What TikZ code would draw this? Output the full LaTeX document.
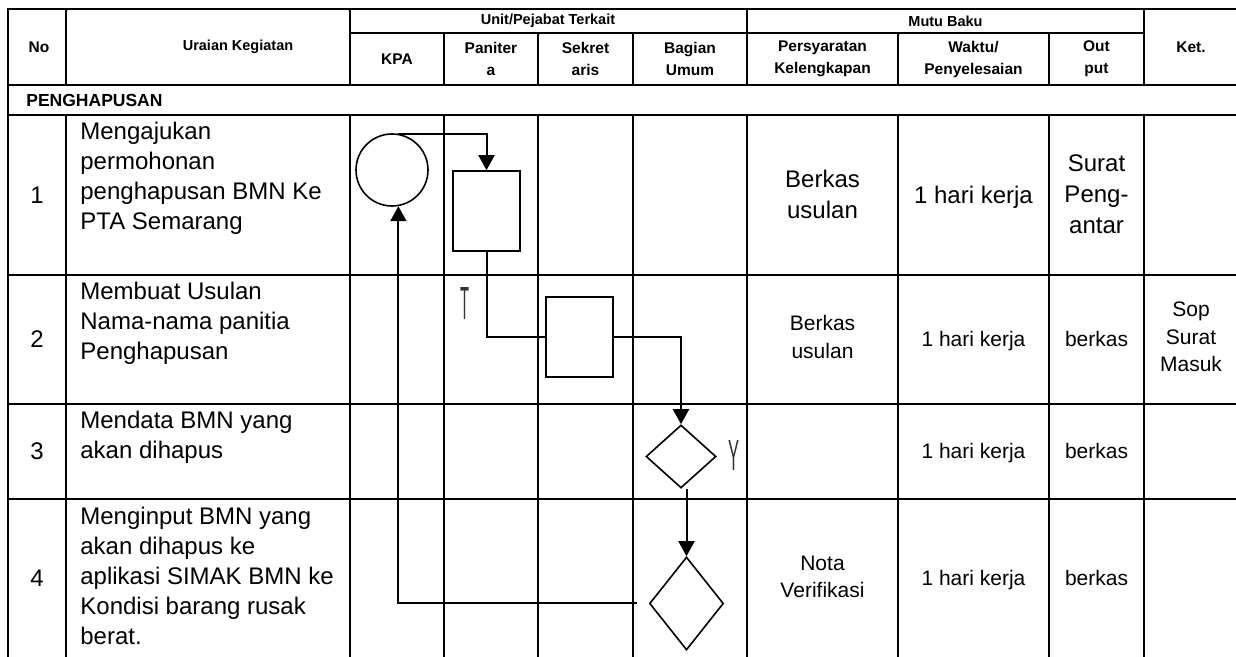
\documentclass[tikz,border=0pt]{standalone}
\usepackage{fontspec}
\setmainfont{Liberation Sans}
\usetikzlibrary{shapes.geometric,arrows.meta}
\begin{document}
\begin{tikzpicture}[x=0.5pt,y=-0.5pt,
  tblline/.style={line width=1pt, line cap=rect},
  hdrtext/.style={font=\bfseries\fontsize{7.25}{11}\selectfont, align=center, inner sep=0},
  hdrbig/.style={font=\bfseries\fontsize{7.75}{11}\selectfont, align=center, inner sep=0},
  bodytext/.style={font=\fontsize{12}{15}\selectfont, align=left, inner sep=0, anchor=north west},
  numtext/.style={font=\fontsize{12}{15}\selectfont, inner sep=0},
  celllg/.style={font=\fontsize{12}{15.5}\selectfont, align=center, inner sep=0},
  cellsm/.style={font=\fontsize{10.5}{13.75}\selectfont, align=center, inner sep=0},
  procbox/.style={draw, line width=0.8pt, rectangle, minimum width=33.5pt, minimum height=40pt, inner sep=0},
  startcirc/.style={draw, line width=0.8pt, circle, minimum size=36pt, inner sep=0},
  decbox/.style={draw, line width=0.8pt, diamond, inner sep=0},
  flowarrow/.style={line width=1pt, -{Triangle[length=7.5pt,width=8pt]}},
  flowline/.style={line width=1pt},
  ynmark/.style={font=\fontsize{20}{20}\selectfont, inner sep=0, text=black!80}
]
\useasboundingbox (0,0) rectangle (1236,657);

% table grid
\draw[tblline] (8,9) -- (1236,9);
\draw[tblline] (350,33) -- (1144,33);
\draw[tblline] (8,85) -- (1236,85);
\draw[tblline] (8,115) -- (1236,115);
\foreach \y in {275,404,499} \draw[tblline] (8,\y) -- (1236,\y);
\draw[tblline] (8,9) -- (8,657);
\foreach \x in {66,350,747,1144} {\draw[tblline] (\x,9) -- (\x,85); \draw[tblline] (\x,115) -- (\x,657);}
\foreach \x in {444,538,633,898,1049} {\draw[tblline] (\x,33) -- (\x,85); \draw[tblline] (\x,115) -- (\x,657);}

% headers
\node[hdrbig] (hno) at (39,47) {No};
\node[hdrtext] (hur) at (238,47) {Uraian Kegiatan};
\node[hdrtext] (hunit) at (548,21) {Unit/Pejabat Terkait};
\node[hdrtext] (hmutu) at (945.5,21) {Mutu Baku};
\node[hdrbig] (hket) at (1191,47) {Ket.};
\node[hdrbig] (hkpa) at (397,59) {KPA};
\node[hdrbig] (hpan) at (491,59) {Paniter\\a};
\node[hdrbig] (hsek) at (585.5,59) {Sekret\\aris};
\node[hdrbig] (hbag) at (690,59) {Bagian\\Umum};
\node[hdrbig] (hper) at (822.5,59) {Persyaratan\\Kelengkapan};
\node[hdrbig] (hwak) at (973.5,59) {Waktu/\\Penyelesaian};
\node[hdrbig] (hout) at (1096.5,59) {Out\\put};

\node[font=\bfseries\fontsize{8.75}{10}\selectfont, anchor=west, inner sep=0] (sec) at (26,100) {PENGHAPUSAN};

% row numbers
\node[numtext] (n1) at (37,195) {1};
\node[numtext] (n2) at (37,339) {2};
\node[numtext] (n3) at (37,451) {3};
\node[numtext] (n4) at (37,578) {4};

% descriptions
\node[bodytext] (u1) at (80,122) {Mengajukan\\permohonan\\penghapusan BMN Ke\\PTA Semarang};
\node[bodytext] (u2) at (80,282) {Membuat Usulan\\Nama-nama panitia\\Penghapusan};
\node[bodytext] (u3) at (80,411) {Mendata BMN yang\\akan dihapus};
\node[bodytext] (u4) at (80,507) {Menginput BMN yang\\akan dihapus ke\\aplikasi SIMAK BMN ke\\Kondisi barang rusak\\berat.};

% mutu baku cells
\node[celllg] (p1) at (822.5,194) {Berkas\\usulan};
\node[celllg, text depth=0pt] (w1) at (973.5,195) {1 hari kerja};
\node[celllg] (o1) at (1096.5,194) {Surat\\Peng-\\antar};

\node[cellsm] (p2) at (822.5,337) {Berkas\\usulan};
\node[cellsm, text depth=0pt] (w2) at (973.5,339) {1 hari kerja};
\node[cellsm, text depth=0pt] (o2) at (1096.5,339) {berkas};
\node[cellsm] (k2) at (1191,337) {Sop\\Surat\\Masuk};

\node[cellsm, text depth=0pt] (w3) at (973.5,451) {1 hari kerja};
\node[cellsm, text depth=0pt] (o3) at (1096.5,451) {berkas};

\node[cellsm] (p4) at (822.5,577) {Nota\\Verifikasi};
\node[cellsm, text depth=0pt] (w4) at (973.5,578) {1 hari kerja};
\node[cellsm, text depth=0pt] (o4) at (1096.5,578) {berkas};

% flow shapes
\node[startcirc] (c1) at (392,170) {};
\node[procbox] (b1) at (486.5,211) {};
\node[procbox] (b2) at (579.5,337) {};
\node[decbox, minimum width=35pt, minimum height=31.5pt] (d1) at (681,456.5) {};
\node[decbox, minimum width=37pt, minimum height=46.5pt] (d2) at (686.5,603.5) {};
\coordinate (ret) at (637,603);

\node[ynmark] (tmark) at (465,304) {\resizebox{4.5pt}{16pt}{T}};
\node[ynmark] (ymark) at (734,455) {\resizebox{5.5pt}{15pt}{Y}};

% connectors
\draw[flowarrow] (c1.80) -| (b1.north);
\draw[flowline] (b1.south) |- (b2.west);
\draw[flowarrow] (b2.east) -| (d1.north);
\draw[flowarrow] (d1.south -| d2.north) -- (d2.north);
\draw[flowarrow] (ret) -| (c1.-80);
\end{tikzpicture}
\end{document}
